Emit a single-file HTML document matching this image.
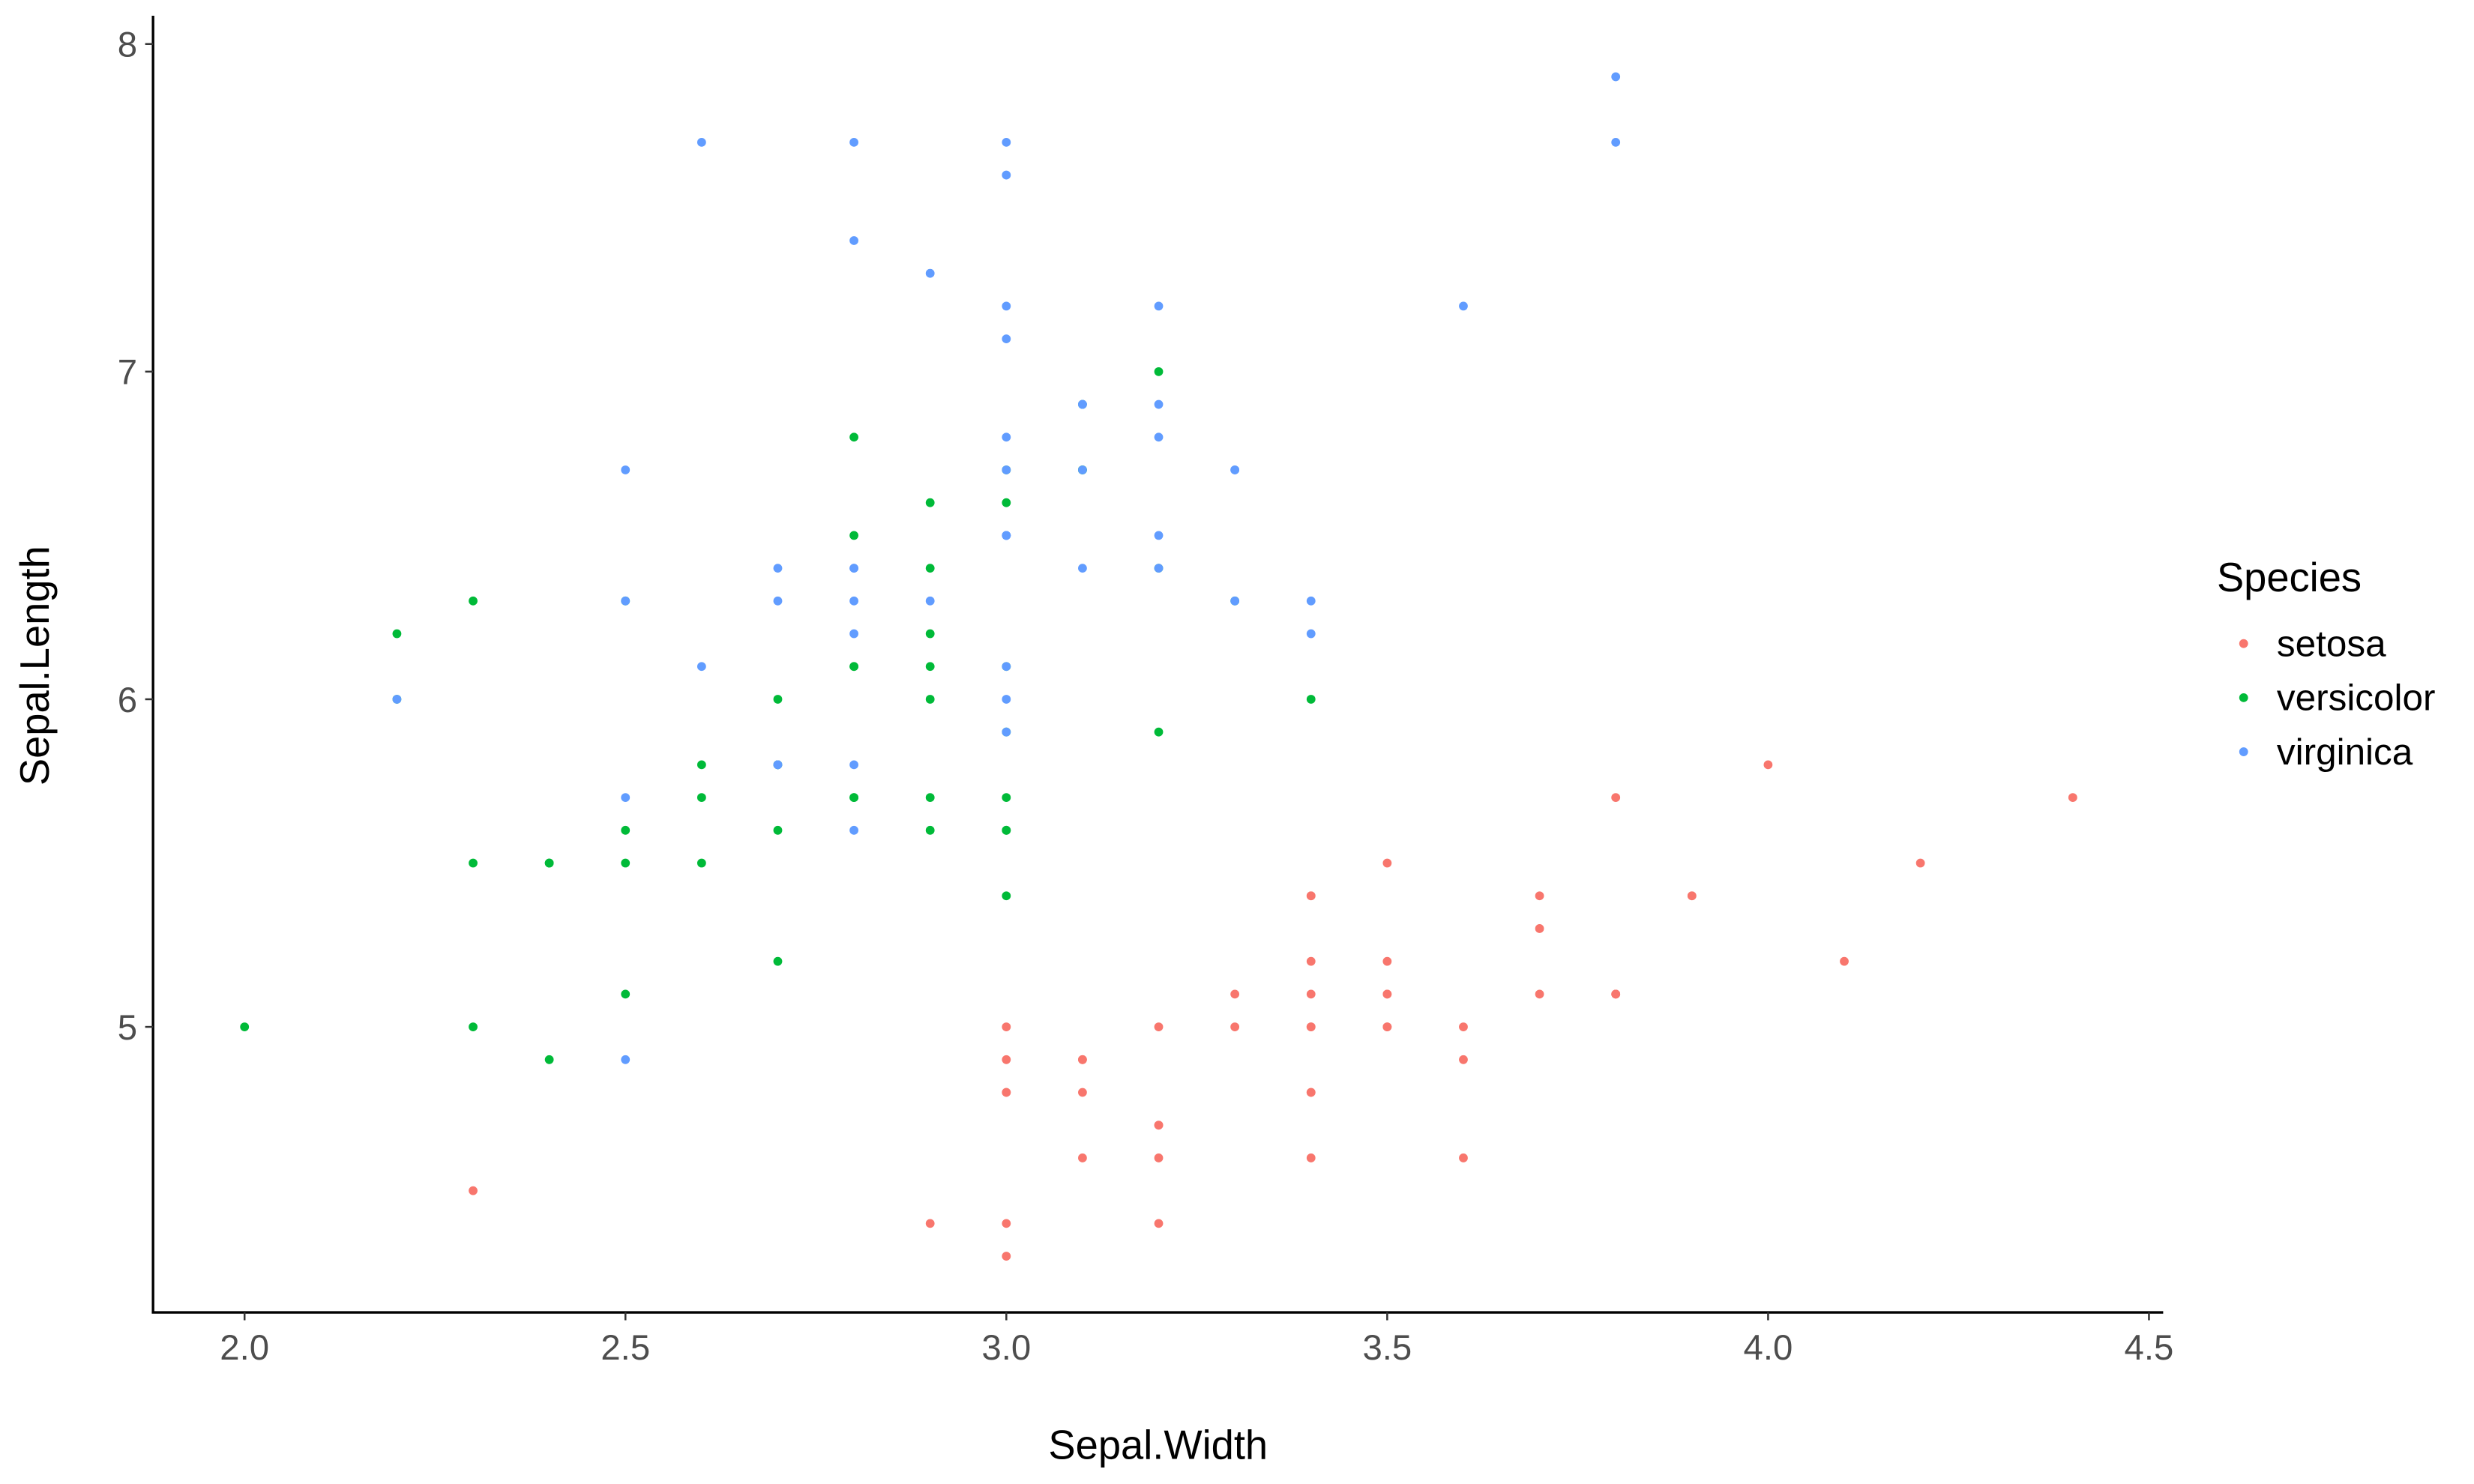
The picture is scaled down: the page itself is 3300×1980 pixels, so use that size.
<!DOCTYPE html>
<html><head><meta charset="utf-8"><style>
html,body{margin:0;padding:0;background:#fff;}
svg{display:block;}
text{font-family:"Liberation Sans",Arial,sans-serif;}
</style></head><body>
<svg id="chart" width="3300" height="1980" viewBox="0 0 1568 940.8" xmlns="http://www.w3.org/2000/svg">
<rect width="1568" height="940.8" fill="#fff"/>
<g id="points"></g>
<line x1="97" y1="10" x2="97" y2="832.5" stroke="#000" stroke-width="1.6"/>
<line x1="96.2" y1="832" x2="1371" y2="832" stroke="#000" stroke-width="1.6"/>
<g id="xticks"></g>
<g id="yticks"></g>
<text x="734" y="925" text-anchor="middle" font-size="25.8" fill="#000">Sepal.Width</text>
<text transform="translate(31,422) rotate(-90)" text-anchor="middle" font-size="25.8" fill="#000">Sepal.Length</text>
<g>
<text x="1405" y="375" font-size="25.8" fill="#000">Species</text>
<g id="legend-entries"></g>
</g>
</svg>
<script>
const xTicks=[2.0,2.5,3.0,3.5,4.0,4.5];
const xTickLabels=["2.0","2.5","3.0","3.5","4.0","4.5"];
const yTicks=[5,6,7,8];
const yTickLabels=["5","6","7","8"];
const species=["setosa","versicolor","virginica"];
const speciesColors=["#F8766D","#00BA38","#619CFF"];
const setosaWidth=[3.5,3.0,3.2,3.1,3.6,3.9,3.4,3.4,2.9,3.1,3.7,3.4,3.0,3.0,4.0,4.4,3.9,3.5,3.8,3.8,3.4,3.7,3.6,3.3,3.4,3.0,3.4,3.5,3.4,3.2,3.1,3.4,4.1,4.2,3.1,3.2,3.5,3.6,3.0,3.4,3.5,2.3,3.2,3.5,3.8,3.0,3.8,3.2,3.7,3.3];
const setosaLength=[5.1,4.9,4.7,4.6,5.0,5.4,4.6,5.0,4.4,4.9,5.4,4.8,4.8,4.3,5.8,5.7,5.4,5.1,5.7,5.1,5.4,5.1,4.6,5.1,4.8,5.0,5.0,5.2,5.2,4.7,4.8,5.4,5.2,5.5,4.9,5.0,5.5,4.9,4.4,5.1,5.0,4.5,4.4,5.0,5.1,4.8,5.1,4.6,5.3,5.0];
const versicolorWidth=[3.2,3.2,3.1,2.3,2.8,2.8,3.3,2.4,2.9,2.7,2.0,3.0,2.2,2.9,2.9,3.1,3.0,2.7,2.2,2.5,3.2,2.8,2.5,2.8,2.9,3.0,2.8,3.0,2.9,2.6,2.4,2.4,2.7,2.7,3.0,3.4,3.1,2.3,3.0,2.5,2.6,3.0,2.6,2.3,2.7,3.0,2.9,2.9,2.5,2.8];
const versicolorLength=[7.0,6.4,6.9,5.5,6.5,5.7,6.3,4.9,6.6,5.2,5.0,5.9,6.0,6.1,5.6,6.7,5.6,5.8,6.2,5.6,5.9,6.1,6.3,6.1,6.4,6.6,6.8,6.7,6.0,5.7,5.5,5.5,5.8,6.0,5.4,6.0,6.7,6.3,5.6,5.5,5.5,6.1,5.8,5.0,5.6,5.7,5.7,6.2,5.1,5.7];
const virginicaWidth=[3.3,2.7,3.0,2.9,3.0,3.0,2.5,2.9,2.5,3.6,3.2,2.7,3.0,2.5,2.8,3.2,3.0,3.8,2.6,2.2,3.2,2.8,2.8,2.7,3.3,3.2,2.8,3.0,2.8,3.0,2.8,3.8,2.8,2.8,2.6,3.0,3.4,3.1,3.0,3.1,3.1,3.1,2.7,3.2,3.3,3.0,2.5,3.0,3.4,3.0];
const virginicaLength=[6.3,5.8,7.1,6.3,6.5,7.6,4.9,7.3,6.7,7.2,6.5,6.4,6.8,5.7,5.8,6.4,6.5,7.7,7.7,6.0,6.9,5.6,7.7,6.3,6.7,7.2,6.2,6.1,6.4,7.2,7.4,7.9,6.4,6.3,6.1,7.7,6.3,6.4,6.0,6.9,6.7,6.9,5.8,6.8,6.7,6.7,6.3,6.5,6.2,5.9];

const NS="http://www.w3.org/2000/svg";
function xScale(v){return 155+(v-2.0)*482.8;}
function yScale(v){return 651-(v-5)*207.7;}

const groups=[[setosaWidth,setosaLength],[versicolorWidth,versicolorLength],[virginicaWidth,virginicaLength]];
const pts=document.getElementById('points');
groups.forEach(function(g,si){
  for(let i=0;i<g[0].length;i++){
    const c=document.createElementNS(NS,'circle');
    c.setAttribute('cx',xScale(g[0][i]));
    c.setAttribute('cy',yScale(g[1][i]));
    c.setAttribute('r',2.8);
    c.setAttribute('fill',speciesColors[si]);
    
    
    pts.appendChild(c);
  }
});
const xt=document.getElementById('xticks');
xTicks.forEach(function(v,i){
  const l=document.createElementNS(NS,'line');
  l.setAttribute('x1',xScale(v));l.setAttribute('x2',xScale(v));
  l.setAttribute('y1',832);l.setAttribute('y2',837);
  l.setAttribute('stroke','#333');l.setAttribute('stroke-width',1.2);
  
  
  xt.appendChild(l);
  const t=document.createElementNS(NS,'text');
  t.setAttribute('x',xScale(v));t.setAttribute('y',862);
  t.setAttribute('text-anchor','middle');t.setAttribute('font-size',22.5);t.setAttribute('fill','#4d4d4d');
  t.textContent=xTickLabels[i];
  
  
  xt.appendChild(t);
});
const yt=document.getElementById('yticks');
yTicks.forEach(function(v,i){
  const l=document.createElementNS(NS,'line');
  l.setAttribute('x1',92);l.setAttribute('x2',97);
  l.setAttribute('y1',yScale(v));l.setAttribute('y2',yScale(v));
  l.setAttribute('stroke','#333');l.setAttribute('stroke-width',1.2);
  
  
  yt.appendChild(l);
  const t=document.createElementNS(NS,'text');
  t.setAttribute('x',87);t.setAttribute('y',yScale(v)+8);
  t.setAttribute('text-anchor','end');t.setAttribute('font-size',22.5);t.setAttribute('fill','#4d4d4d');
  t.textContent=yTickLabels[i];
  
  
  yt.appendChild(t);
});
const le=document.getElementById('legend-entries');
species.forEach(function(s,i){
  const y=408+i*34.3;
  const c=document.createElementNS(NS,'circle');
  c.setAttribute('cx',1422);c.setAttribute('cy',y);c.setAttribute('r',2.8);c.setAttribute('fill',speciesColors[i]);
  
  
  le.appendChild(c);
  const t=document.createElementNS(NS,'text');
  t.setAttribute('x',1443);t.setAttribute('y',y+8);t.setAttribute('font-size',23.5);t.setAttribute('fill','#000');
  t.textContent=s;
  
  
  le.appendChild(t);
});
</script>
</body></html>
